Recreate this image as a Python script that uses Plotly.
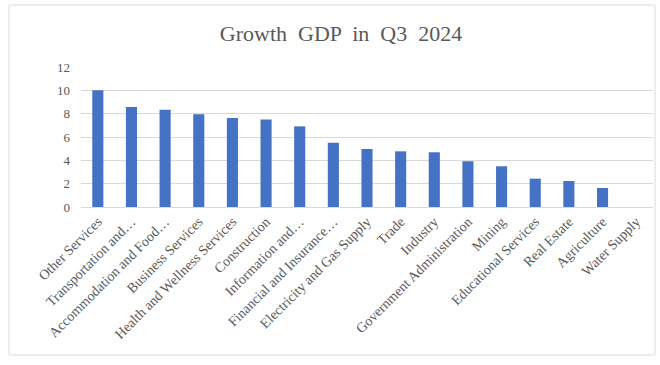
import plotly.graph_objects as go

categories = ["Other Services", "Transportation and…", "Accommodation and Food…",
              "Business Services", "Health and Wellness Services", "Construction",
              "Information and…", "Financial and Insurance…", "Electricity and Gas Supply",
              "Trade", "Industry", "Government Administration", "Mining",
              "Educational Services", "Real Estate", "Agriculture", "Water Supply"]
growth = [10.0, 8.57, 8.34, 7.94, 7.63, 7.51, 6.91, 5.51, 4.97,
          4.77, 4.69, 3.92, 3.49, 2.43, 2.23, 1.63, 0.0]
y_ticks = [0, 2, 4, 6, 8, 10, 12]

W, H = 660, 365
L, R, T, B = 81, 7, 67, 158
pw, ph = W - L - R, H - T - B

def px(x):
    return (x - L) / pw

def py(y):
    return (H - B - y) / ph

fig = go.Figure(go.Bar(x=categories, y=growth, marker_color="#4472C4",
                       marker_line_width=0))

fig.update_layout(
    width=W, height=H,
    margin=dict(l=L, r=R, t=T, b=B),
    paper_bgcolor="white", plot_bgcolor="white",
    bargap=0.67,
    showlegend=False,
    font=dict(family="Liberation Serif, Times New Roman, serif", color="#595959"),
    title=dict(text="Growth  GDP  in  Q3  2024", x=(341) / W, xanchor="center",
               y=1 - 33 / H, yanchor="middle",
               font=dict(size=22, color="#595959", family="Liberation Serif, serif")),
    xaxis=dict(tickangle=-45, tickfont=dict(size=14, color="#595959"),
               showline=True, linecolor="#d9d9d9", ticks="", showgrid=False),
    yaxis=dict(range=[0, 12], tickvals=y_ticks, showgrid=True, gridcolor="#d9d9d9",
               zeroline=False, tickfont=dict(size=13, color="#595959"), ticks="",
               ticklabelstandoff=10),
    shapes=[dict(type="rect", xref="paper", yref="paper",
                 x0=px(9), x1=px(655), y0=py(355), y1=py(5),
                 line=dict(color="#d9d9d9", width=1), layer="below")],
)

fig.write_html("out.html")
